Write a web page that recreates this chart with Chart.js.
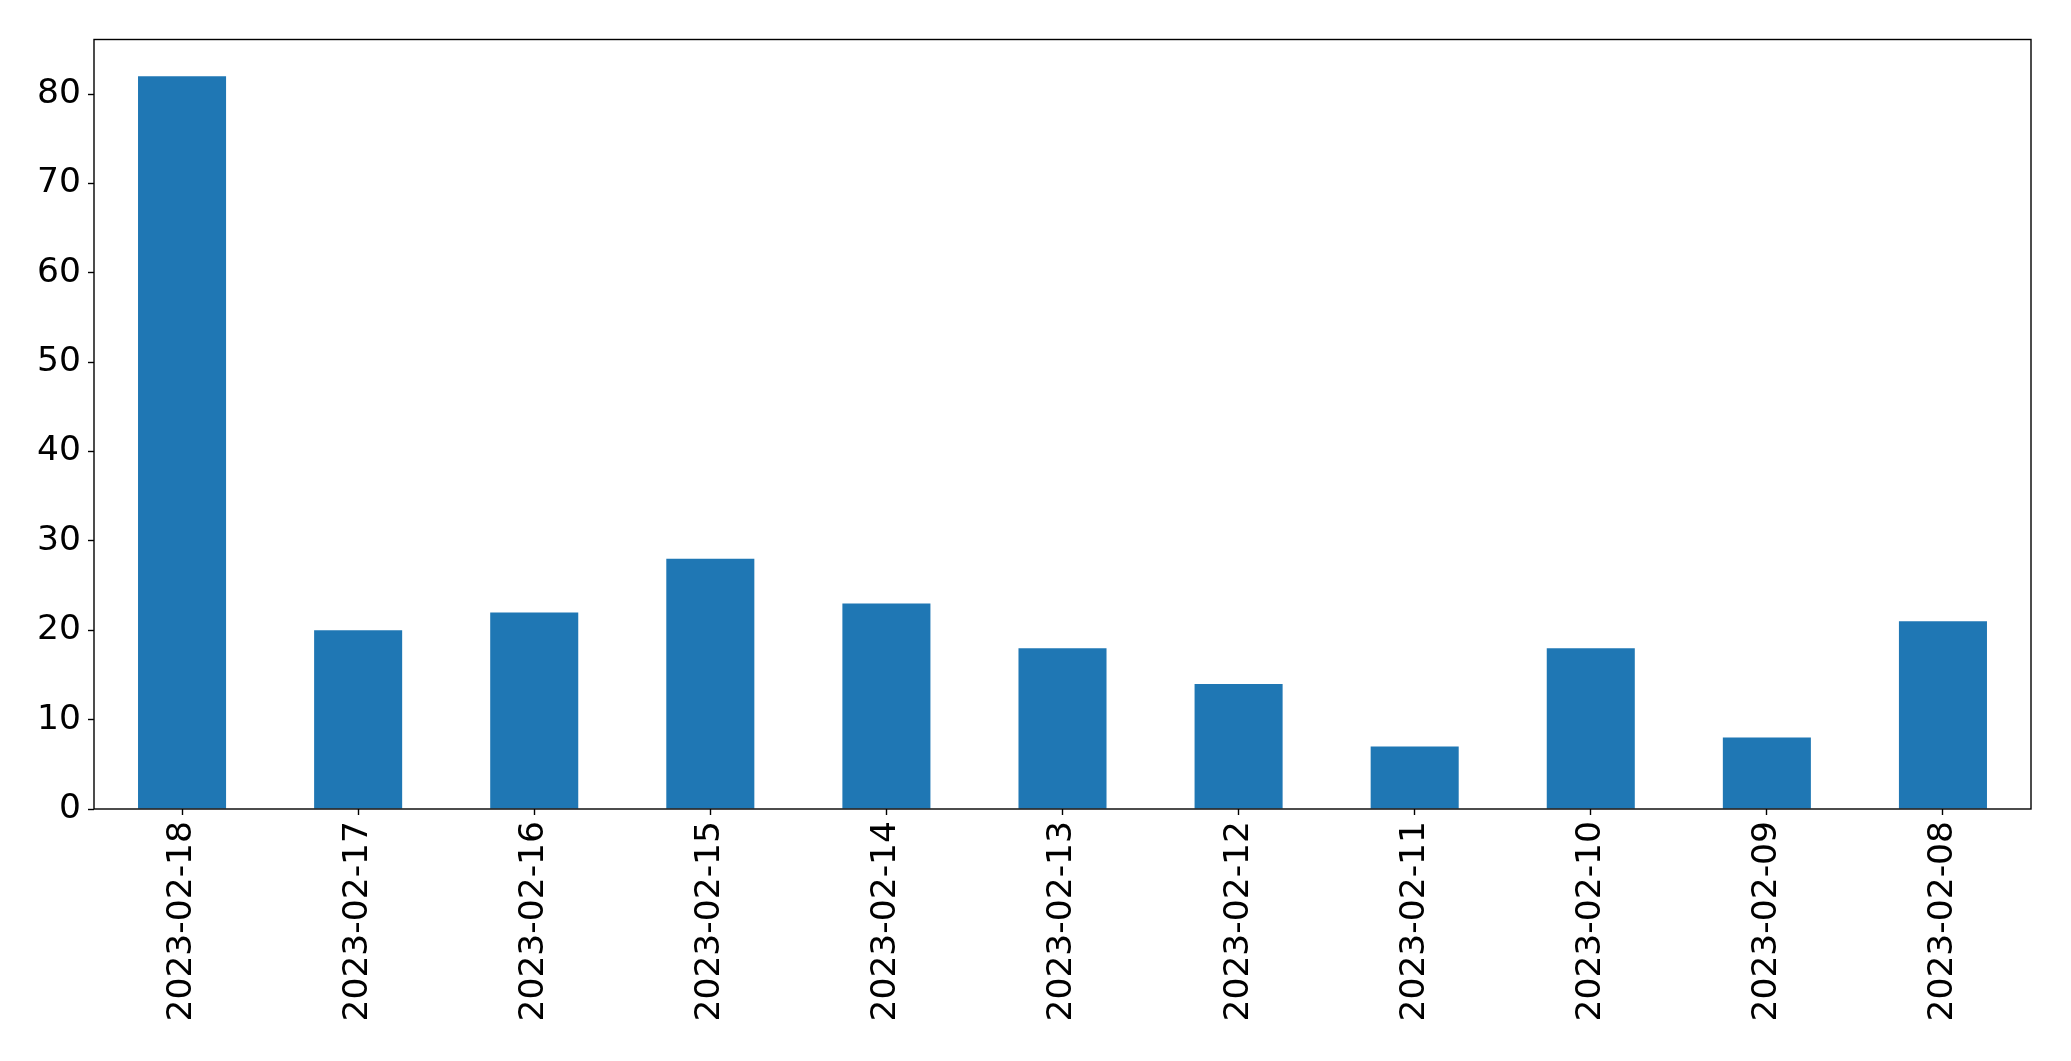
<!DOCTYPE html>
<html lang="en">
<head>
    <meta charset="UTF-8">
    <title>Daily counts</title>
    <style>
        html, body {
            margin: 0;
            padding: 0;
            background: #fff;
        }
        #wrap {
            width: 2071px;
            height: 1061px;
        }
    </style>
    <script src="https://cdn.jsdelivr.net/npm/chart.js"></script>
</head>
<body>
    <div id="wrap"><canvas id="chart" width="2071" height="1061"></canvas></div>
    <script>
        // Data
        const dates = ['2023-02-18', '2023-02-17', '2023-02-16', '2023-02-15', '2023-02-14', '2023-02-13',
                       '2023-02-12', '2023-02-11', '2023-02-10', '2023-02-09', '2023-02-08'];
        const counts = [82, 20, 22, 28, 23, 18, 14, 7, 18, 8, 21];
        const yTicks = [0, 10, 20, 30, 40, 50, 60, 70, 80];

        const fontSpec = { family: 'DejaVu Sans', size: 34.5 };

        // Box round the plot area, like matplotlib's spines
        const frame = {
            id: 'frame',
            afterDraw(chart) {
                const a = chart.chartArea;
                const c = chart.ctx;
                c.save();
                c.strokeStyle = '#000';
                c.lineWidth = 1.4;
                c.strokeRect(a.left, a.top, a.right - a.left, a.bottom - a.top);
                c.restore();
            }
        };

        new Chart(document.getElementById('chart'), {
            type: 'bar',
            data: {
                labels: dates,
                datasets: [{
                    data: counts,
                    backgroundColor: '#1f77b4',
                    borderWidth: 0,
                    categoryPercentage: 1.0,
                    barPercentage: 0.5
                }]
            },
            options: {
                responsive: false,
                animation: false,
                layout: { padding: { top: 39.5, right: 40, left: 0, bottom: 0 } },
                plugins: { legend: { display: false }, tooltip: { enabled: false } },
                scales: {
                    x: {
                        offset: true,
                        grid: { display: true, offset: false, drawOnChartArea: false, tickLength: 6, color: '#000', tickWidth: 1.4 },
                        border: { display: false },
                        ticks: { color: '#000', font: fontSpec, maxRotation: 90, minRotation: 90, padding: 6, autoSkip: false },
                        afterFit(scale) { scale.height = 252; }
                    },
                    y: {
                        min: 0,
                        max: Math.max(...counts) * 1.05,
                        grid: { display: true, drawOnChartArea: false, tickLength: 6, color: '#000', tickWidth: 1.4 },
                        border: { display: false },
                        ticks: { color: '#000', font: fontSpec, padding: 7 },
                        afterBuildTicks(scale) { scale.ticks = yTicks.map(v => ({ value: v })); },
                        afterFit(scale) { scale.width = 94; }
                    }
                }
            },
            plugins: [frame]
        });
    </script>
</body>
</html>
